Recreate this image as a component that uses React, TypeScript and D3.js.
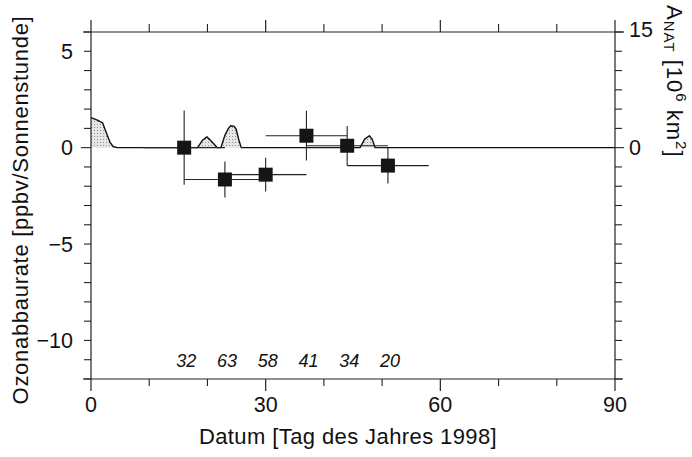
import React from "react";
import * as d3 from "d3";

// Ozone loss rate points (day of year 1998)
const days = [16, 23, 30, 37, 44, 51];
const rates = [0.0, -1.65, -1.4, 0.62, 0.1, -0.93];
const rateErr = [1.93, 0.93, 0.88, 1.29, 1.03, 0.93];
const dayHalfWidth = [7, 7, 7, 7, 7, 7];
const counts = ["32", "63", "58", "41", "34", "20"];

// A_NAT area (10^6 km^2)
const anatDays = [
  0, 1, 2, 2.6, 3.3, 3.8, 4.5,
  18.3, 19.2, 19.9, 20.6, 21.7,
  22.3, 23.0, 23.6, 24.0, 24.5, 24.9, 25.4, 25.8,
  46.2, 47.0, 47.8, 48.3, 48.8,
  90,
];
const anatValues = [
  3.9, 3.6, 3.2, 2.0, 0.65, 0.15, 0,
  0, 1.0, 1.4, 0.9, 0,
  0, 1.6, 2.5, 2.85, 2.8, 2.45, 1.0, 0,
  0, 1.1, 1.55, 1.1, 0,
  0,
];

const xMajorTicks = [0, 30, 60, 90];
const xMinorTicks = [10, 20, 40, 50, 70, 80];
const yLabelTicks = [5, 0, -5, -10];
const yAllTicks = d3.range(-12, 7, 1);
const rightLabelTicks = [15, 0];
const rightAllTicks = d3.range(-30, 15.1, 2.5);

const W = 692;
const H = 457;
const FONT = "'Liberation Sans', Arial, Helvetica, sans-serif";

export default function App() {
  const x = d3.scaleLinear().domain([0, 90]).range([91, 615]);
  const yL = d3.scaleLinear().domain([-12, 6]).range([379, 32]);
  const yR = d3.scaleLinear().domain([-30, 15]).range([379, 32]);

  const anat = anatDays.map((d, i) => [d, anatValues[i]] as [number, number]);
  const area = d3
    .area<[number, number]>()
    .x((d) => x(d[0]))
    .y0(yR(0))
    .y1((d) => yR(d[1]));
  const line = d3
    .line<[number, number]>()
    .x((d) => x(d[0]))
    .y((d) => yR(d[1]));

  const x0 = x(0);
  const x1 = x(90);
  const yTop = yL(6);
  const yBot = yL(-12);
  const sq = 14;

  return (
    <svg
      width={W}
      height={H}
      style={{ position: "absolute", left: 0, top: 0, background: "#fff" }}
      fontFamily={FONT}
    >
      <defs>
        <pattern id="dots" width="3" height="3" patternUnits="userSpaceOnUse">
          <rect width="3" height="3" fill="#e6e6e6" />
          <rect x="1" y="1" width="1" height="1" fill="#8f8f8f" />
        </pattern>
      </defs>

      {/* A_NAT area */}
      <path d={area(anat) || ""} fill="url(#dots)" stroke="none" />
      <path d={line(anat) || ""} fill="none" stroke="#111" strokeWidth={1.4} strokeLinejoin="round" />

      {/* frame */}
      <line x1={x0 - 8} x2={x1 + 8} y1={yTop} y2={yTop} stroke="#222" strokeWidth={1.2} />
      <line x1={x0 - 8} x2={x1 + 8} y1={yBot} y2={yBot} stroke="#222" strokeWidth={1.2} />
      <line x1={x0} x2={x0} y1={yTop} y2={yBot} stroke="#222" strokeWidth={1.2} />
      <line x1={x1} x2={x1} y1={yTop} y2={yBot} stroke="#222" strokeWidth={1.2} />

      {/* x ticks top and bottom */}
      {xMajorTicks.map((t) => (
        <g key={"xm" + t}>
          <line x1={x(t)} x2={x(t)} y1={yTop} y2={yTop - 12} stroke="#222" strokeWidth={1.2} />
          <line x1={x(t)} x2={x(t)} y1={yBot} y2={yBot + 12} stroke="#222" strokeWidth={1.2} />
          <text x={x(t)} y={yBot + 33} fontSize={21.5} textAnchor="middle" fill="#111">
            {t}
          </text>
        </g>
      ))}
      {xMinorTicks.map((t) => (
        <g key={"xn" + t}>
          <line x1={x(t)} x2={x(t)} y1={yTop} y2={yTop - 8} stroke="#222" strokeWidth={1.1} />
          <line x1={x(t)} x2={x(t)} y1={yBot} y2={yBot + 7} stroke="#222" strokeWidth={1.1} />
        </g>
      ))}

      {/* left ticks */}
      {yAllTicks.map((t) => (
        <line
          key={"yl" + t}
          x1={x0}
          x2={x0 - (t === 0 ? 10 : 7)}
          y1={yL(t)}
          y2={yL(t)}
          stroke="#222"
          strokeWidth={1.1}
        />
      ))}
      {yLabelTicks.map((t) => (
        <text key={"yt" + t} x={73} y={yL(t) + 7.5} fontSize={21.5} textAnchor="end" fill="#111">
          {t < 0 ? "\u2212" + Math.abs(t) : t}
        </text>
      ))}

      {/* right ticks */}
      {rightAllTicks.map((t) => (
        <line
          key={"yr" + t}
          x1={x1}
          x2={x1 + (t === 0 || t === 15 ? 9 : 7)}
          y1={yR(t)}
          y2={yR(t)}
          stroke="#222"
          strokeWidth={1.1}
        />
      ))}
      {rightLabelTicks.map((t) => (
        <text
          key={"rt" + t}
          x={629}
          y={yR(t) + (t === 15 ? 5 : 7.5)}
          fontSize={21.5}
          textAnchor="start"
          fill="#111"
        >
          {t}
        </text>
      ))}

      {/* error bars */}
      {days.map((d, i) => (
        <g key={"e" + i}>
          <line
            x1={x(d - dayHalfWidth[i])}
            x2={x(d + dayHalfWidth[i])}
            y1={yL(rates[i])}
            y2={yL(rates[i])}
            stroke="#222"
            strokeWidth={1.1}
          />
          <line
            x1={x(d)}
            x2={x(d)}
            y1={yL(rates[i] + rateErr[i])}
            y2={yL(rates[i] - rateErr[i])}
            stroke="#222"
            strokeWidth={1.1}
          />
        </g>
      ))}
      {days.map((d, i) => (
        <rect
          key={"s" + i}
          x={x(d) - sq / 2}
          y={yL(rates[i]) - sq / 2}
          width={sq}
          height={sq}
          fill="#151515"
        />
      ))}

      {/* counts */}
      {days.map((d, i) => (
        <text
          key={"c" + i}
          x={x(d) + 2}
          y={367}
          fontSize={18}
          fontStyle="italic"
          textAnchor="middle"
          fill="#111"
        >
          {counts[i]}
        </text>
      ))}

      {/* axis titles */}
      <text
        transform={`translate(28, 210) rotate(-90)`}
        fontSize={22}
        letterSpacing={0.7}
        textAnchor="middle"
        fill="#111"
      >
        Ozonabbaurate [ppbv/Sonnenstunde]
      </text>
      <text x={348} y={444} fontSize={22} letterSpacing={0.4} textAnchor="middle" fill="#111">
        Datum [Tag des Jahres 1998]
      </text>
      <text
        transform={`translate(667, 5) rotate(90)`}
        fontSize={22}
        letterSpacing={1}
        textAnchor="start"
        fill="#111"
      >
        A
        <tspan fontSize={15} dy={3}>NAT</tspan>
        <tspan dy={-3}> [10</tspan>
        <tspan fontSize={15} dy={-9}>6</tspan>
        <tspan dy={9}> km</tspan>
        <tspan fontSize={15} dy={-9}>2</tspan>
        <tspan dy={9}>]</tspan>
      </text>
    </svg>
  );
}
